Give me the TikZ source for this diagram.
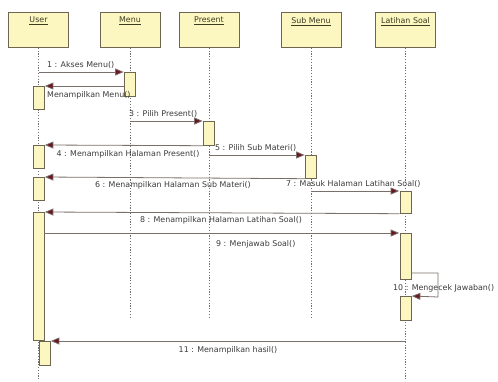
\documentclass[tikz,border=0pt]{standalone}
\usepackage{fontspec}
\setmainfont{DejaVu Sans}
\usetikzlibrary{arrows.meta}
\definecolor{boxfill}{HTML}{FCF6C0}
\definecolor{boxline}{HTML}{6E6652}
\definecolor{msgline}{HTML}{7A6F6A}
\definecolor{tipcol}{HTML}{6A1620}
\definecolor{txt}{HTML}{3A3A3A}
\definecolor{headtxt}{HTML}{3C3C22}
\definecolor{lifecol}{HTML}{707070}
\tikzset{
  every node/.style={font=\fontsize{7.9}{9}\selectfont, text=txt, inner sep=0pt},
  objbox/.style={draw=boxline, fill=boxfill, line width=0.8pt, minimum width=60pt, minimum height=35pt, anchor=north},
  objname/.style={anchor=north, text=headtxt},
  lifeline/.style={draw=lifecol, line width=1pt, dash pattern=on 1.2pt off 1.6pt},
  act/.style={draw=boxline, fill=boxfill, line width=0.7pt, minimum width=11pt, anchor=north},
  msg/.style={draw=msgline, line width=0.8pt, -{Triangle[length=8.5pt,width=7pt,fill=tipcol]}, shorten >=0.5pt},
  lbl/.style={anchor=south west}
}
\begin{document}
\begin{tikzpicture}[x=1pt,y=-1pt]
\useasboundingbox (0,0) rectangle (498,381);

% object heads
\node[objbox] (user) at (38.5,12) {};
\node[objbox] (menu) at (130,12) {};
\node[objbox] (pres) at (209,12) {};
\node[objbox] (sub)  at (311,12) {};
\node[objbox] (lat)  at (405.5,12) {};
\node[objname] at (38.5,17) {\underline{User}};
\node[objname] at (130,17) {\underline{Menu}};
\node[objname] at (209,17) {\underline{Present}};
\node[objname] at (311,17) {\underline{Sub Menu}};
\node[objname] at (405.5,17) {\underline{Latihan Soal}};

% lifeline ends
\coordinate (userend) at (38.5,381);
\coordinate (menuend) at (130,318);
\coordinate (presend) at (209,318);
\coordinate (subend)  at (311,318);
\coordinate (latend)  at (405.5,381);

\draw[lifeline] (user.south) -- (userend);
\draw[lifeline] (menu.south) -- (menuend);
\draw[lifeline] (pres.south) -- (presend);
\draw[lifeline] (sub.south)  -- (subend);
\draw[lifeline] (lat.south)  -- (latend);

% activation bars
\node[act, minimum height=24pt]  (mA1) at (130,72) {};
\node[act, minimum height=23pt]  (uA1) at (38.5,86) {};
\node[act, minimum height=24pt]  (pA1) at (209,121) {};
\node[act, minimum height=23pt]  (uA2) at (38.5,145) {};
\node[act, minimum height=23pt]  (sA1) at (311,155) {};
\node[act, minimum height=23pt]  (uA3) at (38.5,177) {};
\node[act, minimum height=22pt]  (lA1) at (405.5,191) {};
\node[act, minimum height=128pt] (uA4) at (38.5,212) {};
\node[act, minimum height=46pt]  (lA2) at (405.5,233) {};
\node[act, minimum height=24pt]  (lA3) at (405.5,296) {};
\node[act, minimum height=24pt]  (uA5) at (44.5,341) {};

% messages
\draw[msg] (user.south |- mA1.north) -- (mA1.north west);
\node[lbl] at (47,68.5) {1 : Akses Menu()};

\draw[msg] (mA1.west |- uA1.north) -- (uA1.north east);
\node[anchor=north west] at (47,91) {Menampilkan Menu()};

\draw[msg] (menu.south |- pA1.north) -- (pA1.north west);
\node[lbl] at (129,118) {3 : Pilih Present()};

\draw[msg] (pA1.south west) -- (uA2.north east);
\node[anchor=north] at (128,150) {4 : Menampilkan Halaman Present()};

\draw[msg] (pres.south |- sA1.north) -- (sA1.north west);
\node[lbl] at (215,152) {5 : Pilih Sub Materi()};

\draw[msg] (sA1.south west) -- (uA3.north east);
\node[anchor=north] at (173,181) {6 : Menampilkan Halaman Sub Materi()};

\draw[msg] (sub.south |- lA1.north) -- (lA1.north west);
\node[lbl] at (286,188) {7 : Masuk Halaman Latihan Soal()};

\draw[msg] (lA1.south west) -- (uA4.north east);
\node[anchor=north] at (221,216.5) {8 : Menampilkan Halaman Latihan Soal()};

\draw[msg] (uA4.east |- lA2.north) -- (lA2.north west);
\node[anchor=north west] at (216,240) {9 : Menjawab Soal()};

\draw[msg] (lA2.east |- 0,273) -- (438,273) -- (438,297) -- (lA3.north east);
\node[anchor=west] at (393,288) {10 : Mengecek Jawaban()};

\draw[msg] (lat.south |- uA5.north) -- (uA5.north east);
\node[anchor=north] at (228,346) {11 : Menampilkan hasil()};
\end{tikzpicture}
\end{document}
